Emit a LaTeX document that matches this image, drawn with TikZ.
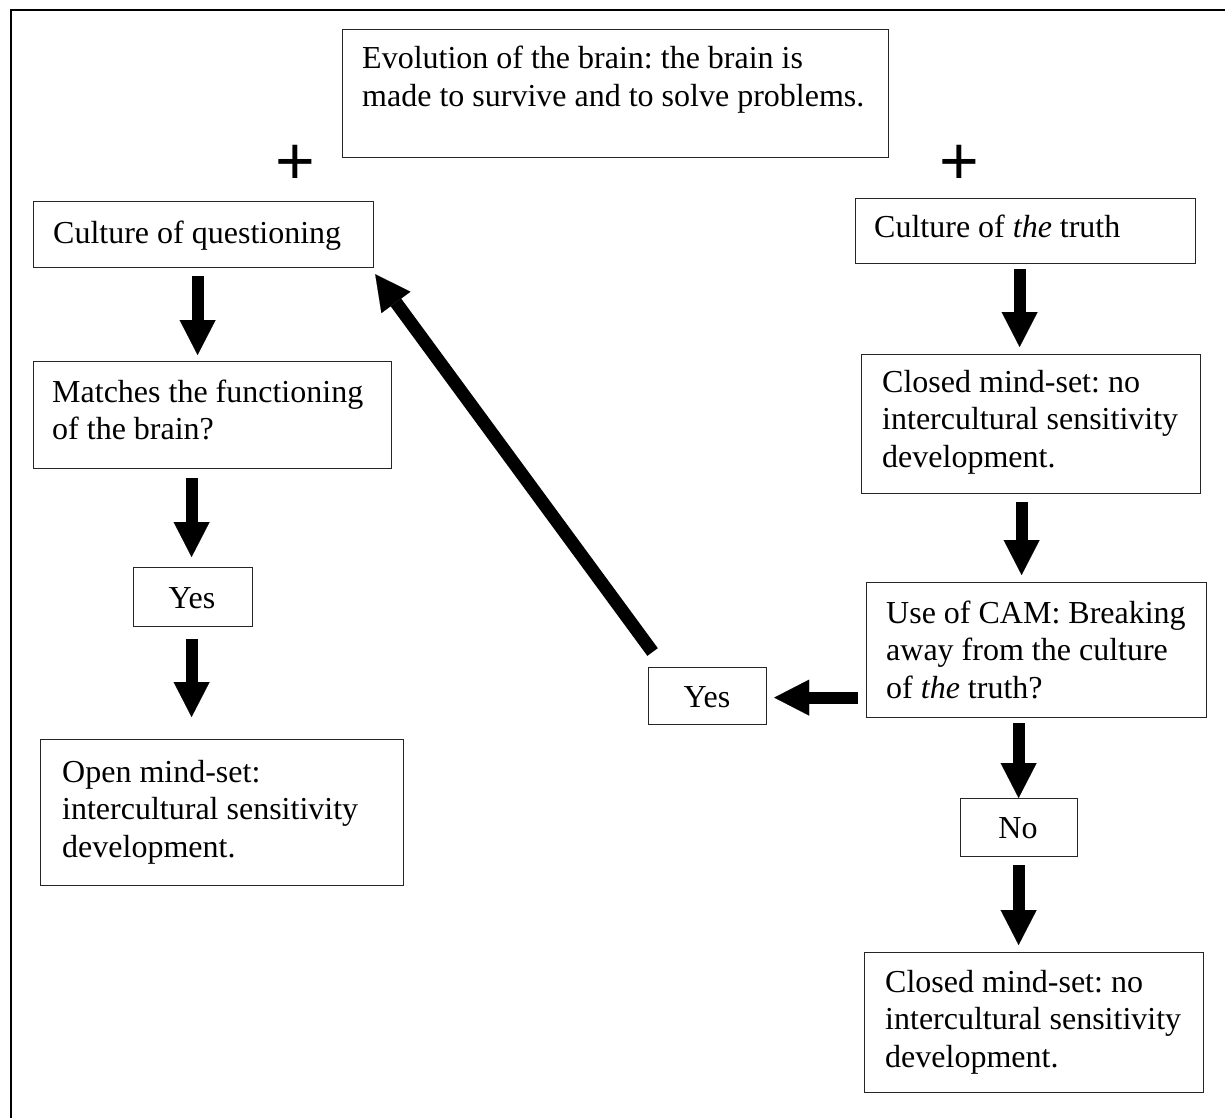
\documentclass[tikz,border=0pt]{standalone}
\usepackage{fontspec}
\setmainfont{Liberation Serif}
\newfontfamily\plusfont{Liberation Sans}
\usetikzlibrary{arrows.meta,calc}
\frenchspacing
\newcommand\bodyfont{\fontsize{32}{37.5}\selectfont}
\begin{document}
\begin{tikzpicture}[x=1pt,y=-1pt,
  bx/.style={draw=black!85, line width=1.2pt, anchor=north west, inner sep=0pt},
  txt/.style={anchor=base west, inner sep=0pt, font=\bodyfont},
  ctxt/.style={anchor=base, inner sep=0pt, font=\bodyfont},
  plussign/.style={anchor=base, inner sep=0pt, font=\plusfont\fontsize{68}{68}\selectfont},
  blk/.style={line width=12pt, -{Triangle[length=35pt,width=36pt,line width=0.1pt]}},
  blkd/.style={line width=13pt, -{Triangle[length=35pt,width=36pt,line width=0.1pt]}}]
\useasboundingbox (0,0) rectangle (1225,1118);
% outer frame (open at the right and bottom)
\draw[line width=2pt] (11,1118) -- (11,10) -- (1225,10);

% boxes
\node[bx, minimum width=546, minimum height=128] (evo) at (342,29) {};
\node[bx, minimum width=340, minimum height=66] (cq) at (33,201) {};
\node[bx, minimum width=340, minimum height=65] (ct) at (855,198) {};
\node[bx, minimum width=358, minimum height=107] (match) at (33,361) {};
\node[bx, minimum width=119, minimum height=59] (yesL) at (133,567) {};
\node[bx, minimum width=363, minimum height=146] (open) at (40,739) {};
\node[bx, minimum width=339, minimum height=139] (closedA) at (861,354) {};
\node[bx, minimum width=340, minimum height=135] (cam) at (866,582) {};
\node[bx, minimum width=118, minimum height=57] (yesR) at (648,667) {};
\node[bx, minimum width=117, minimum height=58] (no) at (960,798) {};
\node[bx, minimum width=339, minimum height=140] (closedB) at (864,952) {};

% texts
\node[txt] (evo-t) at (362,69) {\parbox[t]{520pt}{Evolution of the brain: the brain is\\made to survive and to solve problems.}};
\node[txt] (cq-t) at (53,243) {Culture of questioning};
\node[txt] (ct-t) at (874,237) {Culture of \textit{the} truth};
\node[txt] (match-t) at (52,402) {\parbox[t]{340pt}{Matches the functioning\\of the brain?}};
\node[ctxt] (yesL-t) at (192,608) {Yes};
\node[txt] (open-t) at (62,782) {\parbox[t]{340pt}{Open mind-set:\\intercultural sensitivity\\development.}};
\node[txt] (closedA-t) at (882,392) {\parbox[t]{320pt}{Closed mind-set: no\\intercultural sensitivity\\development.}};
\node[txt] (cam-t) at (886,623) {\parbox[t]{320pt}{Use of CAM: Breaking\\away from the culture\\of \textit{the} truth?}};
\node[ctxt] (yesR-t) at (707,707) {Yes};
\node[ctxt] (no-t) at (1018,838) {No};
\node[txt] (closedB-t) at (885,992) {\parbox[t]{320pt}{Closed mind-set: no\\intercultural sensitivity\\development.}};

% plus signs
\node[plussign] (plusL) at (295,185) {+};
\node[plussign] (plusR) at (959,185) {+};

% block arrows
\draw[blk] ($(cq.south)+(-6,8)$) -- ($(match.north)+(-15,-6)$);
\draw[blk] ($(match.south)+(-21,9)$) -- ($(yesL.north)+(-1.5,-10)$);
\draw[blk] ($(yesL.south)+(-1.5,12)$) -- ($(open.north)+(-30.5,-22)$);
\draw[blk] ($(ct.south)+(-6,5)$) -- ($(closedA.north)+(-11.5,-7)$);
\draw[blk] ($(closedA.south)+(-9.5,8)$) -- ($(cam.north)+(-15,-7)$);
\draw[blk] ($(cam.west)+(-8,47.5)$) -- ($(yesR.east)+(7,1.5)$);
\draw[blk] ($(cam.south)+(-18,5)$) -- ($(no.north)+(-0.5,0)$);
\draw[blk] ($(no.south)+(-0.5,8)$) -- ($(closedB.north)+(-15.5,-7)$);
\draw[blkd] ($(yesR.north)+(-55,-15)$) -- ($(cq.south east)+(1,6)$);
\end{tikzpicture}
\end{document}
